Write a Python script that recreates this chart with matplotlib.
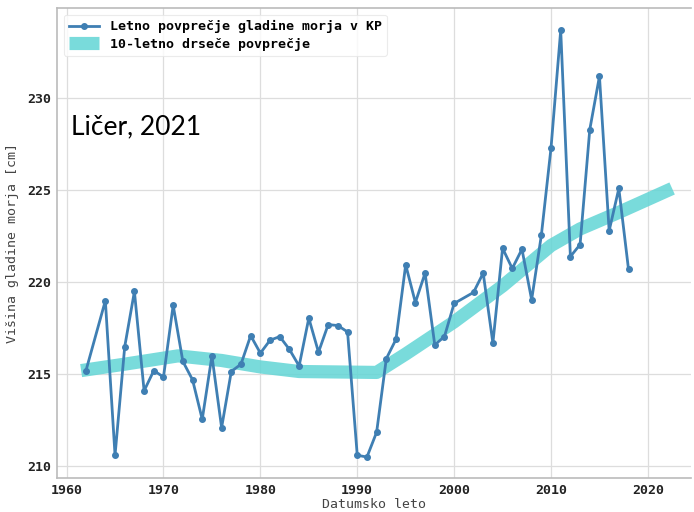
import numpy as np
import matplotlib
matplotlib.use('Agg')
import matplotlib.pyplot as plt

# letna povprecja (1963 in 2001 manjkata)
leta = [1962, 1964, 1965, 1966, 1967, 1968, 1969, 1970, 1971, 1972, 1973, 1974,
        1975, 1976, 1977, 1978, 1979, 1980, 1981, 1982, 1983, 1984, 1985, 1986,
        1987, 1988, 1989, 1990, 1991, 1992, 1993, 1994, 1995, 1996, 1997, 1998,
        1999, 2000, 2002, 2003, 2004, 2005, 2006, 2007, 2008, 2009, 2010, 2011,
        2012, 2013, 2014, 2015, 2016, 2017, 2018]
gladina = [215.2, 219.0, 210.6, 216.5, 219.5, 214.1, 215.2, 214.85, 218.75, 215.7,
           214.7, 212.55, 216.0, 212.1, 215.15, 215.55, 217.1, 216.15, 216.85, 217.05,
           216.35, 215.45, 218.05, 216.2, 217.7, 217.65, 217.3, 210.6, 210.5, 211.85,
           215.85, 216.9, 220.95, 218.9, 220.5, 216.6, 217.05, 218.85, 219.45, 220.5,
           216.7, 221.85, 220.75, 221.8, 219.05, 222.55, 227.3, 233.7, 221.4, 222.05,
           228.3, 231.2, 222.8, 225.1, 220.7]

# 10-letno drsece povprecje
leta_dp = [1961.5, 1966, 1971.5, 1976, 1980, 1984, 1992, 1995, 2000, 2005,
           2010, 2013, 2017, 2022.5]
dp = [215.2, 215.55, 216.0, 215.75, 215.4, 215.15, 215.1, 216.1, 217.85, 219.8,
      222.0, 222.9, 223.8, 225.1]

fig = plt.figure(figsize=(6.94, 5.12), dpi=100)
ax = fig.add_axes([0.082, 0.066, 0.913, 0.918])

ax.plot(leta_dp, dp, color='#62d5d5', lw=9.5, alpha=0.85, solid_capstyle='butt',
        label='10-letno drseče povprečje', zorder=2)
ax.plot(leta, gladina, color='#3f7fb3', lw=2, marker='o', ms=4,
        label='Letno povprečje gladine morja v KP', zorder=3)

ax.set_xlim(1959, 2024.4)
ax.set_ylim(209.35, 234.9)
ax.set_xticks([1960, 1970, 1980, 1990, 2000, 2010, 2020])
ax.set_yticks([210, 215, 220, 225, 230])
ax.grid(True, color='#dddddd', lw=0.9)
ax.set_axisbelow(True)
for s in ax.spines.values():
    s.set_color('#bbbbbb')
    s.set_linewidth(1.2)
ax.spines['right'].set_visible(False)
ax.tick_params(length=0, pad=4)
for lab in ax.get_xticklabels() + ax.get_yticklabels():
    lab.set_family('DejaVu Sans Mono')
    lab.set_fontweight('bold')
    lab.set_fontsize(9.5)
    lab.set_color('#222222')

ax.set_xlabel('Datumsko leto', family='DejaVu Sans Mono', fontsize=9.5,
              color='#444444', labelpad=1)
ax.set_ylabel('Višina gladine morja [cm]', family='DejaVu Sans Mono', fontsize=9.5,
              color='#444444', labelpad=6)

h, l = ax.get_legend_handles_labels()
leg = ax.legend(h[::-1], l[::-1], loc='upper left',
                prop={'family': 'DejaVu Sans Mono', 'weight': 'bold', 'size': 9.5},
                frameon=True, edgecolor='#e6e6e6', fancybox=True, borderpad=0.4,
                handlelength=2.3, borderaxespad=0.5, labelspacing=0.35)
leg.get_frame().set_linewidth(0.8)

ax.text(0.022, 0.747, 'Ličer, 2021', transform=ax.transAxes, family='Lato',
        fontsize=19, color='black', va='center', ha='left')

fig.savefig('out.png', dpi=100)
